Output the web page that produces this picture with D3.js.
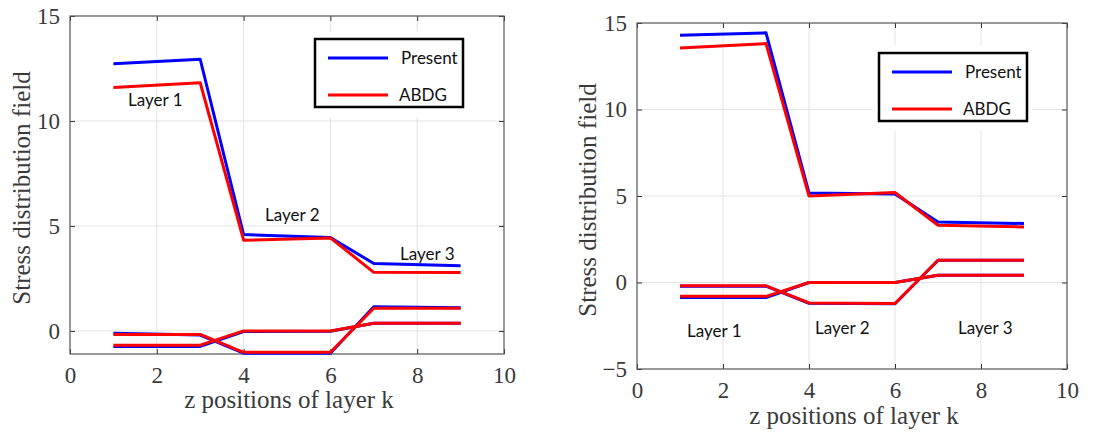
<!DOCTYPE html>
<html>
<head>
<meta charset="utf-8">
<script src="https://cdn.jsdelivr.net/npm/d3@7"></script>
<style>
  body { margin: 0; background: #fff; }
  svg { display: block; }
</style>
</head>
<body>
<svg id="chart" width="1115" height="432"></svg>
<script>
// layer interface positions
let zPos = [1, 3, 4, 6, 7, 9];

// left panel
let leftPresent = [
  [12.73, 12.94, 4.59, 4.45, 3.21, 3.1],
  [-0.11, -0.2, -1.06, -1.06, 1.15, 1.1],
  [-0.74, -0.74, -0.03, -0.02, 0.36, 0.36]
];
let leftABDG = [
  [11.6, 11.82, 4.32, 4.43, 2.79, 2.78],
  [-0.17, -0.17, -1.02, -1.02, 1.08, 1.08],
  [-0.68, -0.68, 0.0, 0.0, 0.36, 0.36]
];

// right panel
let rightPresent = [
  [14.29, 14.43, 5.18, 5.12, 3.5, 3.41],
  [-0.21, -0.21, -1.2, -1.23, 1.29, 1.29],
  [-0.87, -0.87, 0.0, 0.0, 0.42, 0.42]
];
let rightABDG = [
  [13.56, 13.81, 5.0, 5.2, 3.31, 3.21],
  [-0.19, -0.19, -1.18, -1.21, 1.29, 1.29],
  [-0.8, -0.8, 0.0, 0.0, 0.42, 0.42]
];

let xTicks = [0, 2, 4, 6, 8, 10];
let leftYTicks = [0, 5, 10, 15];
let rightYTicks = [-5, 0, 5, 10, 15];
let legendNames = ["Present", "ABDG"];
let seriesColors = ["#0000ff", "#ff0000"];
let layerNames = ["Layer 1", "Layer 2", "Layer 3"];

let svg = d3.select("#chart");
let serifFont = '"Liberation Serif"';
let sansFont = '"Lato"';

function drawPanel(p) {
  let g = svg.append("g");
  let x = d3.scaleLinear().domain([0, 10]).range([p.left, p.right]);
  let y = d3.scaleLinear().domain(p.yDomain).range([p.bottom, p.top]);

  // grid
  g.append("g")
    .selectAll("line")
    .data(xTicks.slice(1, -1))
    .join("line")
    .attr("x1", (d) => x(d))
    .attr("x2", (d) => x(d))
    .attr("y1", p.top)
    .attr("y2", p.bottom)
    .style("stroke", "#e3e3e3")
    .style("stroke-width", 1);
  g.append("g")
    .selectAll("line")
    .data(p.yTicks.filter((d) => d > p.yDomain[0] && d < p.yDomain[1]))
    .join("line")
    .attr("x1", p.left)
    .attr("x2", p.right)
    .attr("y1", (d) => y(d))
    .attr("y2", (d) => y(d))
    .style("stroke", "#e3e3e3")
    .style("stroke-width", 1);

  // axes with inward ticks on all sides
  let xb = g.append("g").attr("transform", `translate(0,${p.bottom})`)
    .call(d3.axisBottom(x).tickValues(xTicks).tickSizeInner(-5).tickSizeOuter(0).tickPadding(13));
  let xt = g.append("g").attr("transform", `translate(0,${p.top})`)
    .call(d3.axisTop(x).tickValues(xTicks).tickSizeInner(-5).tickSizeOuter(0).tickFormat(""));
  let yl = g.append("g").attr("transform", `translate(${p.left},0)`)
    .call(d3.axisLeft(y).tickValues(p.yTicks).tickSizeInner(-5).tickSizeOuter(0).tickPadding(10));
  let yr = g.append("g").attr("transform", `translate(${p.right},0)`)
    .call(d3.axisRight(y).tickValues(p.yTicks).tickSizeInner(-5).tickSizeOuter(0).tickFormat(""));
  [xb, xt, yl, yr].forEach((a) => {
    a.attr("font-family", null).attr("font-size", null);
    a.select(".domain").remove();
    a.selectAll(".tick line").style("stroke", "#333");
    a.selectAll("text")
      .style("font-family", serifFont)
      .style("font-size", "23px")
      .style("fill", "#3a3a3a");
  });
  g.append("rect")
    .attr("x", p.left)
    .attr("y", p.top)
    .attr("width", p.right - p.left)
    .attr("height", p.bottom - p.top)
    .style("fill", "none")
    .style("stroke", "#555")
    .style("stroke-width", 1.2);

  // lines
  let line = d3.line()
    .x((d, i) => x(zPos[i]))
    .y((d) => y(d));
  [p.present, p.abdg].forEach((set, k) => {
    g.append("g")
      .selectAll("path")
      .data(set)
      .join("path")
      .attr("d", line)
      .style("fill", "none")
      .style("stroke", seriesColors[k])
      .style("stroke-width", 3)
      .style("stroke-linejoin", "round");
  });

  // layer labels
  g.append("g")
    .selectAll("text")
    .data(layerNames)
    .join("text")
    .attr("x", (d, i) => p.layerPos[i][0])
    .attr("y", (d, i) => p.layerPos[i][1])
    .text((d) => d)
    .style("font-family", sansFont)
    .style("font-size", "17px")
    .style("fill", "#111");

  // legend
  let lg = g.append("g").attr("transform", `translate(${p.legend[0]},${p.legend[1]})`);
  lg.append("rect")
    .attr("x", -6)
    .attr("y", -8)
    .attr("width", 160)
    .attr("height", 86)
    .style("fill", "#fff");
  lg.append("rect")
    .attr("width", 148)
    .attr("height", 68)
    .style("fill", "#fff")
    .style("stroke", "#000")
    .style("stroke-width", 2.5);
  lg.selectAll("line")
    .data(legendNames)
    .join("line")
    .attr("x1", 13)
    .attr("x2", 73)
    .attr("y1", (d, i) => 19 + i * 37)
    .attr("y2", (d, i) => 19 + i * 37)
    .style("stroke", (d, i) => seriesColors[i])
    .style("stroke-width", 3);
  lg.selectAll("text")
    .data(legendNames)
    .join("text")
    .attr("x", (d, i) => (i == 0 ? 86 : 84))
    .attr("y", (d, i) => 19 + i * 37 + 6)
    .text((d) => d)
    .style("font-family", sansFont)
    .style("font-size", "17px")
    .style("fill", "#111");

  // axis titles
  g.append("text")
    .attr("x", (p.left + p.right) / 2 + 2)
    .attr("y", p.xLabelY)
    .attr("text-anchor", "middle")
    .text("z positions of layer k")
    .style("font-family", serifFont)
    .style("font-size", "25px")
    .style("fill", "#3a3a3a");
  g.append("text")
    .attr("transform", `translate(${p.yLabelX},${p.yLabelY}) rotate(-90)`)
    .attr("text-anchor", "middle")
    .text("Stress distribution field")
    .style("font-family", serifFont)
    .style("font-size", "25px")
    .style("fill", "#3a3a3a");
}

drawPanel({
  left: 70, right: 504, top: 16, bottom: 354,
  yDomain: [-1.1, 15], yTicks: leftYTicks,
  present: leftPresent, abdg: leftABDG,
  layerPos: [[128, 106], [265, 221], [400, 260]],
  legend: [315, 39],
  xLabelY: 408, yLabelX: 30, yLabelY: 188
});

drawPanel({
  left: 637, right: 1067, top: 23, bottom: 369,
  yDomain: [-5, 15], yTicks: rightYTicks,
  present: rightPresent, abdg: rightABDG,
  layerPos: [[687, 337], [815, 334], [958, 334]],
  legend: [879, 53],
  xLabelY: 424, yLabelX: 596, yLabelY: 200
});
</script>
</body>
</html>
